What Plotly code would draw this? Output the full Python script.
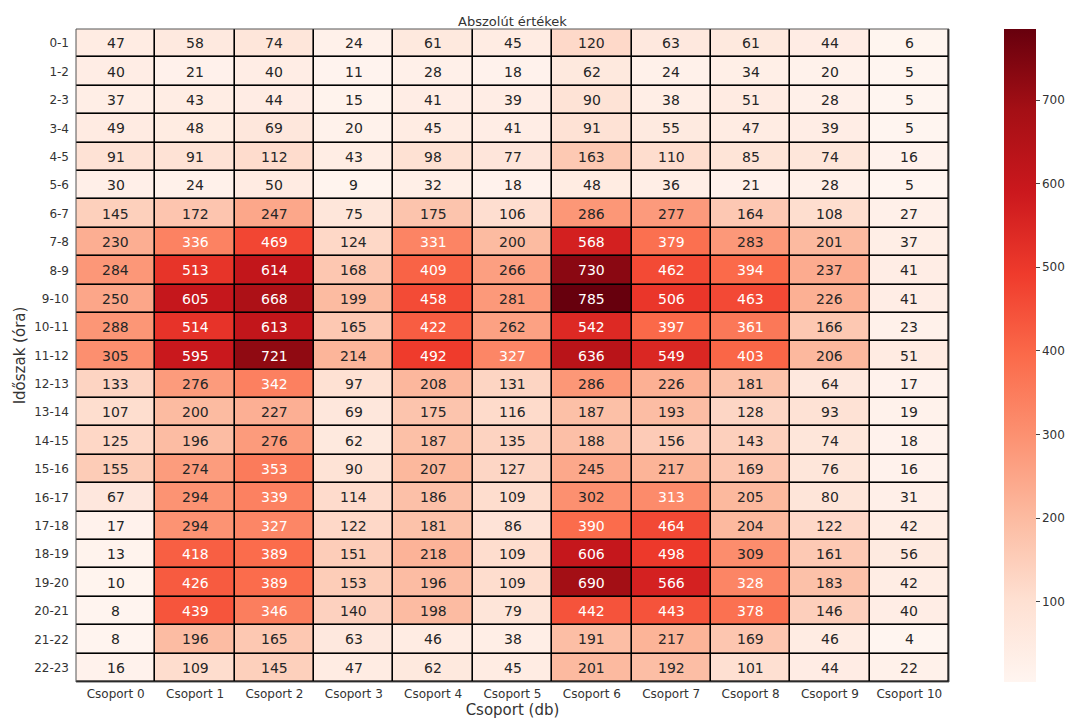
import plotly.graph_objects as go

# Hourly periods (rows) and groups (columns)
periods = ["0-1", "1-2", "2-3", "3-4", "4-5", "5-6", "6-7", "7-8", "8-9", "9-10",
           "10-11", "11-12", "12-13", "13-14", "14-15", "15-16", "16-17", "17-18",
           "18-19", "19-20", "20-21", "21-22", "22-23"]
groups = [f"Csoport {i}" for i in range(11)]

# Counts per group, one list per column
csoport_0 = [47, 40, 37, 49, 91, 30, 145, 230, 284, 250, 288, 305, 133, 107, 125, 155, 67, 17, 13, 10, 8, 8, 16]
csoport_1 = [58, 21, 43, 48, 91, 24, 172, 336, 513, 605, 514, 595, 276, 200, 196, 274, 294, 294, 418, 426, 439, 196, 109]
csoport_2 = [74, 40, 44, 69, 112, 50, 247, 469, 614, 668, 613, 721, 342, 227, 276, 353, 339, 327, 389, 389, 346, 165, 145]
csoport_3 = [24, 11, 15, 20, 43, 9, 75, 124, 168, 199, 165, 214, 97, 69, 62, 90, 114, 122, 151, 153, 140, 63, 47]
csoport_4 = [61, 28, 41, 45, 98, 32, 175, 331, 409, 458, 422, 492, 208, 175, 187, 207, 186, 181, 218, 196, 198, 46, 62]
csoport_5 = [45, 18, 39, 41, 77, 18, 106, 200, 266, 281, 262, 327, 131, 116, 135, 127, 109, 86, 109, 109, 79, 38, 45]
csoport_6 = [120, 62, 90, 91, 163, 48, 286, 568, 730, 785, 542, 636, 286, 187, 188, 245, 302, 390, 606, 690, 442, 191, 201]
csoport_7 = [63, 24, 38, 55, 110, 36, 277, 379, 462, 506, 397, 549, 226, 193, 156, 217, 313, 464, 498, 566, 443, 217, 192]
csoport_8 = [61, 34, 51, 47, 85, 21, 164, 283, 394, 463, 361, 403, 181, 128, 143, 169, 205, 204, 309, 328, 378, 169, 101]
csoport_9 = [44, 20, 28, 39, 74, 28, 108, 201, 237, 226, 166, 206, 64, 93, 74, 76, 80, 122, 161, 183, 146, 46, 44]
csoport_10 = [6, 5, 5, 5, 16, 5, 27, 37, 41, 41, 23, 51, 17, 19, 18, 16, 31, 42, 56, 42, 40, 4, 22]

columns = [csoport_0, csoport_1, csoport_2, csoport_3, csoport_4, csoport_5,
           csoport_6, csoport_7, csoport_8, csoport_9, csoport_10]

# Row-major matrix: z[row][col]
z = [[col[r] for col in columns] for r in range(len(periods))]
zmin = min(min(row) for row in z)
zmax = max(max(row) for row in z)

# Matplotlib "Reds" colormap
reds = ["#fff5f0", "#fee0d2", "#fcbba1", "#fc9272", "#fb6a4a",
        "#ef3b2c", "#cb181d", "#a50f15", "#67000d"]
colorscale = [[i / (len(reds) - 1), c] for i, c in enumerate(reds)]

font_family = "DejaVu Sans"

fig = go.Figure()
fig.add_trace(go.Heatmap(
    z=z, x=groups, y=periods,
    colorscale=colorscale, zmin=zmin, zmax=zmax,
    xgap=1.6, ygap=1.6,
    colorbar=dict(
        x=1.063, xanchor="left", xpad=0, y=0.5, yanchor="middle", ypad=0,
        len=1.0, lenmode="fraction", thickness=32,
        outlinewidth=0, ticks="outside", ticklen=4, tickcolor="#444",
        tickvals=[100, 200, 300, 400, 500, 600, 700],
        tickfont=dict(family=font_family, size=12, color="#333"),
    ),
    hoverinfo="skip",
))

# Value annotations: light text on dark cells
for r, period in enumerate(periods):
    for c, g in enumerate(groups):
        v = z[r][c]
        fig.add_annotation(
            x=g, y=period, text=str(v), showarrow=False,
            font=dict(family=font_family, size=14,
                      color="#ffffff" if v > 311 else "#262626"),
        )

# Thin frame around the grid
fig.add_shape(type="rect", xref="paper", yref="paper", x0=0, y0=0, x1=1, y1=1,
              line=dict(color="#555555", width=1))

fig.update_layout(
    width=1072, height=720,
    margin=dict(l=76, r=123, t=29, b=38, autoexpand=False),
    paper_bgcolor="white", plot_bgcolor="black",
    title=dict(text="Abszolút értékek", x=0.5, xref="paper", xanchor="center",
               y=1, yref="paper", yanchor="bottom", pad=dict(b=3),
               font=dict(family=font_family, size=13, color="#333")),
    font=dict(family=font_family, color="#333"),
)
fig.update_xaxes(
    type="category", automargin=False, ticklabelstandoff=3,
    title=dict(text="Csoport (db)", font=dict(size=15, color="#333"), standoff=4),
    tickfont=dict(size=12, color="#333"), ticks="", showgrid=False, zeroline=False,
)
fig.update_yaxes(
    type="category", automargin=False, autorange="reversed", ticklabelstandoff=6,
    title=dict(text="Időszak (óra)", font=dict(size=15, color="#333"), standoff=4),
    tickfont=dict(size=12, color="#333"), ticks="", showgrid=False, zeroline=False,
)

fig.write_html("out.html")
